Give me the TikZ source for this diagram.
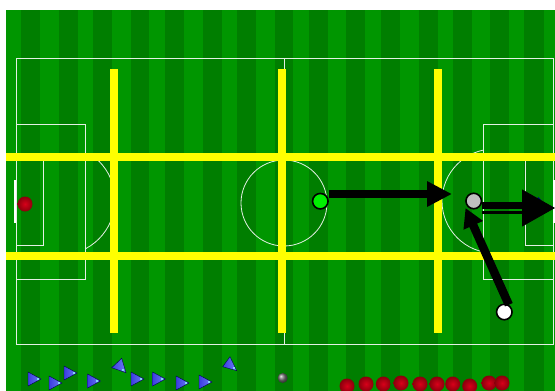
\documentclass[tikz,border=0pt]{standalone}
\usetikzlibrary{arrows.meta}
\definecolor{lightturf}{HTML}{009600}
\definecolor{darkturf}{HTML}{007E00}
\definecolor{barYellow}{HTML}{FFFF00}
\definecolor{markWhite}{HTML}{E4F0E4}
\definecolor{coneLeft}{HTML}{3C3CE0}
\definecolor{coneRight}{HTML}{6C80F4}
\definecolor{ballCore}{HTML}{D8001A}
\definecolor{ballRim}{HTML}{8A000C}
\tikzset{
  x=1pt,y=-1pt,
  pitchline/.style={draw=markWhite,line width=0.8pt},
  bar/.style={barYellow,line width=8pt},
  player/.style={circle,draw=black,line width=1.6pt,minimum size=15.5pt,inner sep=0pt},
  redball/.style={circle,inner color=ballCore,outer color=ballRim,minimum size=15pt,inner sep=0pt},
  runarrow/.style={black,line width=8.5pt},
  conebody/.style={draw=black!70!blue,line width=0.4pt,left color=coneLeft,right color=coneRight},
  conespot/.style={cyan!50!white},
  cone/.pic={\draw[conebody] (-6.5,-7) -- (6.5,0) -- (-6.5,7) -- cycle;
     \fill[conespot] (2.2,-1.2) rectangle (4,1.2);}
}
\begin{document}
\begin{tikzpicture}
\useasboundingbox (0,0) rectangle (555,391);
\fill[lightturf] (6,10) rectangle (555,391);
\foreach \a/\b in {21/40,59/78,93/112,131/149,165/184,203/222,237/256,275/293,309/328,346/365,381/400,419/438,453/472,490/509,524/544}
  \fill[darkturf] (\a,10) rectangle (\b,391);
% pitch markings
\draw[pitchline] (16,58.5) rectangle (553.5,344);
\draw[pitchline] (284,58.5) -- (284,344);
\draw[pitchline] (16,124) rectangle (85,279);
\draw[pitchline] (16,160) rectangle (43,245);
\draw[pitchline] (483,124) rectangle (553.5,279);
\draw[pitchline] (525,160) rectangle (553.5,245);
\draw[pitchline] (284,203) circle[radius=43];
\begin{scope}
  \clip (85,155) rectangle (120,262);
  \draw[pitchline] (60,200) circle[radius=55];
\end{scope}
\begin{scope}
  \clip (430,140) rectangle (483,262);
  \draw[pitchline] (494,201) circle[radius=52];
\end{scope}
\fill[white] (14,180) rectangle (16,223);
\fill[white] (553,180) rectangle (555,223);
% yellow bars
\draw[bar] (114,69) -- (114,333);
\draw[bar] (282,69) -- (282,333);
\draw[bar] (438,69) -- (438,333);
\draw[bar] (6,157) -- (555,157);
\draw[bar] (6,256) -- (555,256);
% hidden cone behind arrow
\fill[blue!50!black] (538,197) -- (541,200) -- (537,200) -- cycle;
% players
\node[player,fill=green!94!black] (green) at (320.3,201.2) {};
\node[player,fill=black!25] (grey) at (473.7,201) {};
\node[player,fill=white] (white) at (504.3,312) {};
% arrows
\coordinate (endA) at (452,194);
\coordinate (endB) at (555,208);
\coordinate (endC) at (465.5,208);
\coordinate (upperB) at (524,205.5);
\coordinate (lowerB) at (524,212.5);
\draw[runarrow,-{Triangle[length=25pt,width=24pt]}] (green.east |- endA) -- (endA);
\draw[black,line width=7.5pt] (grey.east |- upperB) -- (upperB);
\draw[black,line width=3pt] (grey.east |- lowerB) -- (lowerB);
\draw[black,line width=1pt,-{Triangle[length=33pt,width=37pt]}] (grey.east |- endB) -- (endB);
\draw[runarrow,-{Triangle[length=19pt,width=20pt]}] (white.58) -- (endC);
% goalkeeper and spare balls
\node[redball] (keeper) at (25,204) {};
\foreach \i/\x/\y in {1/347/386,2/366/384,3/383.3/384,4/401/383,5/420/384,6/437/384,7/452.7/384,8/469.7/386,9/489/383,10/502/383}
  \node[redball] (ball\i) at (\x,\y) {};
\node[circle,shading=ball,ball color=black!55,minimum size=10pt,inner sep=0pt] (dummy) at (282.7,378) {};
% cones
\foreach \x/\y in {34.5/379,55.5/383,70.5/373,94/381,137.5/379,159/379,182.5/383,205.5/382}
  \pic at (\x,\y) {cone};
\draw[conebody] (121.7,358.3) -- (111.7,367.7) -- (126,372.7) -- cycle;
\fill[conespot] (121.8,368.5) rectangle (124,371);
\draw[conebody] (230,356.7) -- (222.7,366.7) -- (236.7,370.7) -- cycle;
\fill[conespot] (232.5,366.7) rectangle (234.7,369.2);
\end{tikzpicture}
\end{document}
